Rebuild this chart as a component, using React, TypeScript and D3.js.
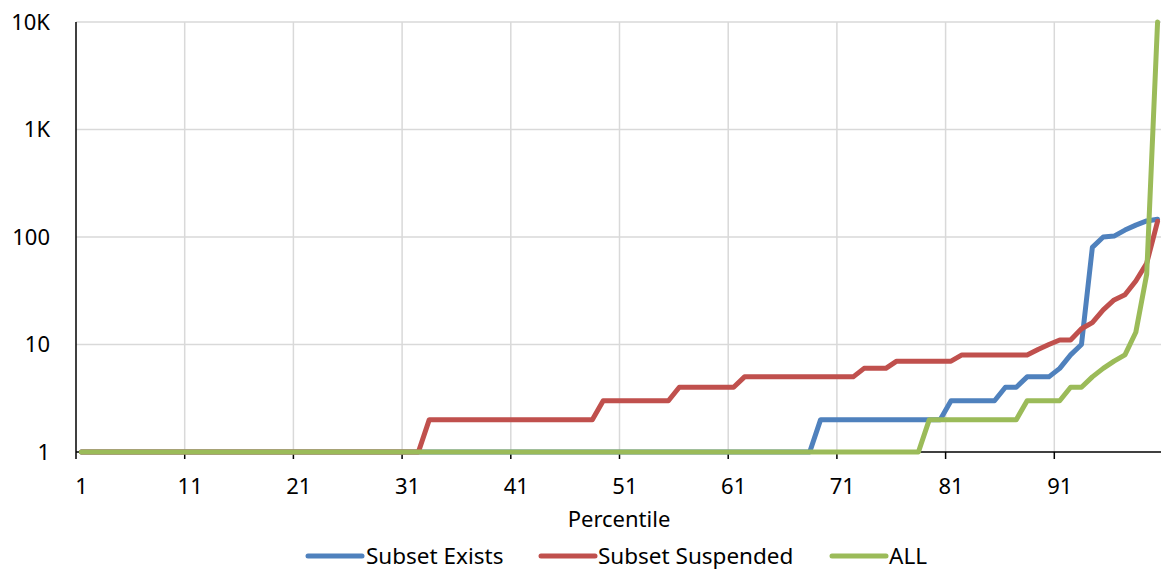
import React from 'react';
import * as d3 from 'd3';

// percentile categories 1..100
const percentiles: number[] = d3.range(1, 101);

const subsetExists: number[] = [
  1, 1, 1, 1, 1, 1, 1, 1, 1, 1,
  1, 1, 1, 1, 1, 1, 1, 1, 1, 1,
  1, 1, 1, 1, 1, 1, 1, 1, 1, 1,
  1, 1, 1, 1, 1, 1, 1, 1, 1, 1,
  1, 1, 1, 1, 1, 1, 1, 1, 1, 1,
  1, 1, 1, 1, 1, 1, 1, 1, 1, 1,
  1, 1, 1, 1, 1, 1, 1, 1, 2, 2,
  2, 2, 2, 2, 2, 2, 2, 2, 2, 2,
  3, 3, 3, 3, 3, 4, 4, 5, 5, 5,
  6, 8, 10, 80, 100, 102, 116, 129, 141, 146,
];

const subsetSuspended: number[] = [
  1, 1, 1, 1, 1, 1, 1, 1, 1, 1,
  1, 1, 1, 1, 1, 1, 1, 1, 1, 1,
  1, 1, 1, 1, 1, 1, 1, 1, 1, 1,
  1, 1, 2, 2, 2, 2, 2, 2, 2, 2,
  2, 2, 2, 2, 2, 2, 2, 2, 3, 3,
  3, 3, 3, 3, 3, 4, 4, 4, 4, 4,
  4, 5, 5, 5, 5, 5, 5, 5, 5, 5,
  5, 5, 6, 6, 6, 7, 7, 7, 7, 7,
  7, 8, 8, 8, 8, 8, 8, 8, 9, 10,
  11, 11, 14, 16, 21, 26, 29, 39, 57, 140,
];

const allValues: number[] = [
  1, 1, 1, 1, 1, 1, 1, 1, 1, 1,
  1, 1, 1, 1, 1, 1, 1, 1, 1, 1,
  1, 1, 1, 1, 1, 1, 1, 1, 1, 1,
  1, 1, 1, 1, 1, 1, 1, 1, 1, 1,
  1, 1, 1, 1, 1, 1, 1, 1, 1, 1,
  1, 1, 1, 1, 1, 1, 1, 1, 1, 1,
  1, 1, 1, 1, 1, 1, 1, 1, 1, 1,
  1, 1, 1, 1, 1, 1, 1, 1, 2, 2,
  2, 2, 2, 2, 2, 2, 2, 3, 3, 3,
  3, 4, 4, 5, 6, 7, 8, 13, 45, 10000,
];

const seriesNames = ['Subset Exists', 'Subset Suspended', 'ALL'];
const seriesColors = ['#4F81BD', '#C0504D', '#9BBB59'];
const seriesValues = [subsetExists, subsetSuspended, allValues];

const xTickCategories = [1, 11, 21, 31, 41, 51, 61, 71, 81, 91];
const yTickValues = [1, 10, 100, 1000, 10000];
const yTickLabels = ['1', '10', '100', '1K', '10K'];

const W = 1161;
const H = 570;
const FONT = '"Noto Sans", sans-serif';

const App: React.FC = () => {
  const left = 76;
  const step = 10.87;
  const top = 22;
  const bottom = 452;

  // category centres; boundaries at p - 0.5
  const x = d3
    .scaleLinear()
    .domain([0.5, percentiles.length + 0.5])
    .range([left, left + step * percentiles.length]);
  const right = x(percentiles.length + 0.5);

  const y = d3.scaleLog().domain([1, 10000]).range([bottom, top]);

  const line = d3
    .line<number>()
    .x((_, i) => x(percentiles[i]))
    .y(d => y(d));

  const legendItems = [
    { lineX: 308, textX: 366 },
    { lineX: 541, textX: 598 },
    { lineX: 832, textX: 889 },
  ];

  return (
    <svg
      width={W}
      height={H}
      style={{ position: 'absolute', left: 0, top: 0, background: '#fff' }}
      fontFamily={FONT}
    >
      {/* horizontal gridlines */}
      {yTickValues.slice(1).map(v => (
        <line key={'hg' + v} x1={left} x2={right} y1={y(v)} y2={y(v)} stroke="#d9d9d9" strokeWidth={1.5} />
      ))}
      {/* vertical gridlines */}
      {xTickCategories.slice(1).map(c => (
        <line key={'vg' + c} x1={x(c - 0.5)} x2={x(c - 0.5)} y1={top} y2={bottom} stroke="#d9d9d9" strokeWidth={1.5} />
      ))}

      {/* axes */}
      <line x1={left} x2={left} y1={top} y2={bottom} stroke="#000" strokeWidth={1.5} />
      <line x1={left} x2={right} y1={bottom} y2={bottom} stroke="#000" strokeWidth={1.5} />
      {xTickCategories.map(c => (
        <line key={'t' + c} x1={x(c - 0.5)} x2={x(c - 0.5)} y1={bottom} y2={bottom + 7} stroke="#000" strokeWidth={1.5} />
      ))}

      {/* tick labels */}
      {yTickValues.map((v, i) => (
        <text key={'yl' + v} x={50} y={y(v)} dy="0.35em" textAnchor="end" fontSize={22} fill="#000">
          {yTickLabels[i]}
        </text>
      ))}
      {xTickCategories.map(c => (
        <text key={'xl' + c} x={x(c)} y={494} textAnchor="middle" fontSize={22} fill="#000">
          {c}
        </text>
      ))}
      <text x={619} y={527} textAnchor="middle" fontSize={22} fill="#000">
        Percentile
      </text>

      {/* series */}
      {seriesValues.map((vals, i) => (
        <path
          key={seriesNames[i]}
          d={line(vals) || ''}
          fill="none"
          stroke={seriesColors[i]}
          strokeWidth={5}
          strokeLinecap="round"
          strokeLinejoin="round"
        />
      ))}

      {/* legend */}
      {seriesNames.map((name, i) => (
        <g key={'lg' + name}>
          <line
            x1={legendItems[i].lineX}
            x2={legendItems[i].lineX + 54}
            y1={556}
            y2={556}
            stroke={seriesColors[i]}
            strokeWidth={5}
            strokeLinecap="round"
          />
          <text x={legendItems[i].textX} y={564} fontSize={22.5} fill="#000">
            {name}
          </text>
        </g>
      ))}
    </svg>
  );
};

export default App;
